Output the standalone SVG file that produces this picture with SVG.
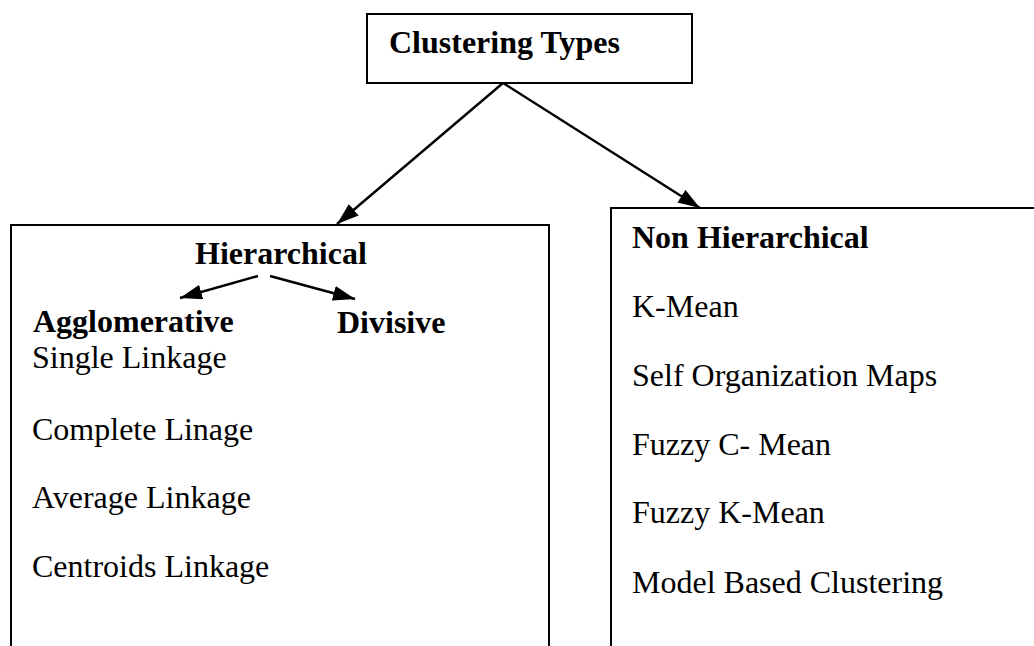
<svg xmlns="http://www.w3.org/2000/svg" width="1034" height="646" viewBox="0 0 1034 646">
<style>
.box{fill:#fff;stroke:#000;stroke-width:2}
.edge{fill:none;stroke:#000;stroke-width:2.4}
.t{font-family:"Liberation Serif","Times New Roman",serif;font-size:32px;fill:#000}
.b{font-weight:bold}
</style>
<defs>
<marker id="ah" viewBox="0 0 10 10" refX="10" refY="5" markerWidth="22" markerHeight="15" markerUnits="userSpaceOnUse" orient="auto" preserveAspectRatio="none">
<path d="M0,0 L10,5 L0,10 z" fill="#000"/>
</marker>
</defs>
<rect width="1034" height="646" fill="#fff"/>
<g id="root">
<rect class="box" x="367" y="14" width="325" height="69"/>
<text class="t b" x="389" y="53">Clustering Types</text>
</g>
<g id="hierarchical">
<rect class="box" x="11" y="225" width="538" height="440"/>
<text class="t b" x="195" y="264">Hierarchical</text>
<text class="t b" x="33" y="332">Agglomerative</text>
<text class="t b" x="337" y="333">Divisive</text>
<text class="t" x="32" y="368">Single Linkage</text>
<text class="t" x="32" y="440">Complete Linage</text>
<text class="t" x="32" y="508">Average Linkage</text>
<text class="t" x="32" y="577">Centroids Linkage</text>
</g>
<g id="nonhierarchical">
<rect class="box" x="611" y="208" width="440" height="460"/>
<text class="t b" x="632" y="248">Non Hierarchical</text>
<text class="t" x="632" y="317">K-Mean</text>
<text class="t" x="632" y="386">Self Organization Maps</text>
<text class="t" x="632" y="455">Fuzzy C- Mean</text>
<text class="t" x="632" y="523">Fuzzy K-Mean</text>
<text class="t" x="632" y="593">Model Based Clustering</text>
</g>
<g id="connectors">
<line class="edge" x1="503" y1="83" x2="337" y2="224" marker-end="url(#ah)"/>
<line class="edge" x1="503" y1="83" x2="700" y2="208" marker-end="url(#ah)"/>
<line class="edge" x1="258" y1="276" x2="180" y2="298" marker-end="url(#ah)"/>
<line class="edge" x1="270" y1="276" x2="355" y2="299" marker-end="url(#ah)"/>
</g>
</svg>
